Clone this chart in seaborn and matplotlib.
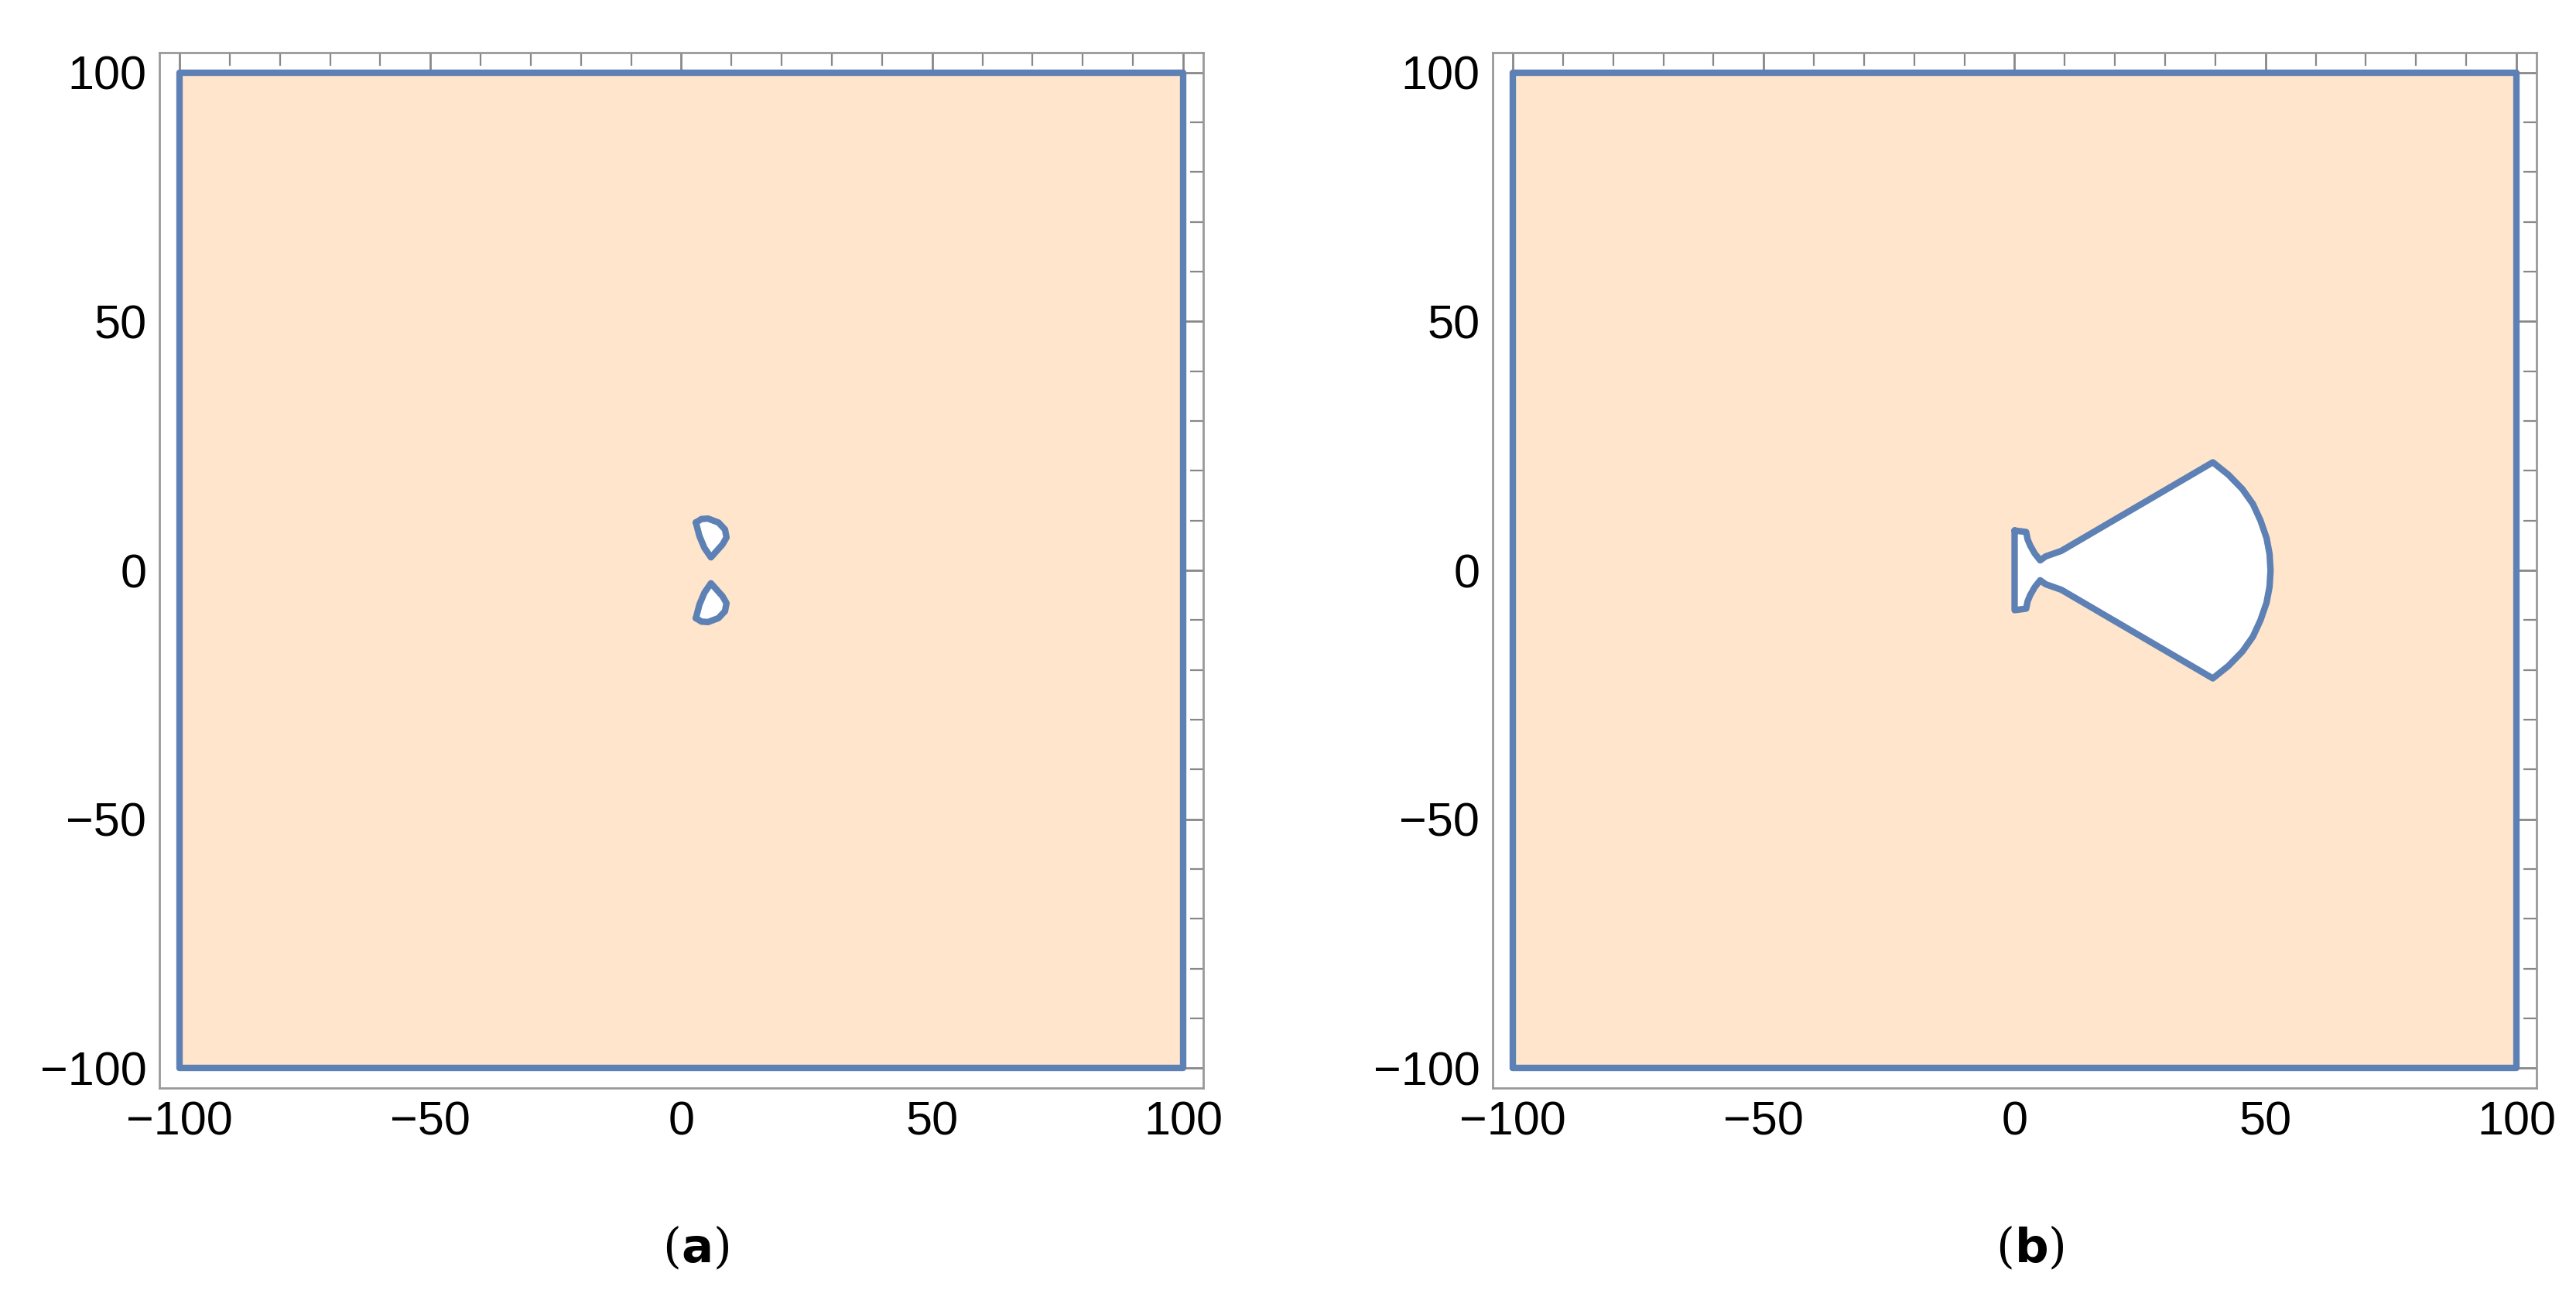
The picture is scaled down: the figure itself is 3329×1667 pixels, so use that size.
import numpy as np
import pandas as pd
import seaborn as sns
import matplotlib.pyplot as plt
from matplotlib.ticker import MultipleLocator

sns.set_style("white")
plt.rcParams['font.family'] = ['Liberation Sans', 'DejaVu Sans']
plt.rcParams['text.color'] = 'black'
plt.rcParams['xtick.labelcolor'] = 'black'
plt.rcParams['ytick.labelcolor'] = 'black'

# outer boundary (square) shared by both panels
square_x = [-100, 100, 100, -100, -100]
square_y = [-100, -100, 100, 100, -100]

# panel (a): two small drop-shaped holes (upper one, lower is mirrored)
drop_x = [2.9, 4.0, 5.3, 7.4, 8.7, 9.0, 8.2, 5.9, 4.6, 3.6, 2.9]
drop_y = [9.6, 10.3, 10.4, 9.6, 8.2, 6.6, 5.2, 2.6, 4.5, 6.9, 9.6]

# panel (b): fan-shaped hole, upper half from top-left going round to the right tip
fan_x = [0.0, 2.3, 2.6, 3.1, 4.0, 5.1, 6.2, 9.3, 39.5, 42.6, 45.4, 47.5, 49.0, 50.2, 50.8, 51.0]
fan_y = [8.0, 7.7, 6.2, 5.0, 3.4, 2.0, 2.8, 3.9, 21.7, 19.2, 16.3, 13.3, 10.0, 6.5, 3.3, 0.0]

fill_c = "#FEE5CC"
edge_c = "#5E81B5"

def outline(ax, xs, ys, fc):
    ax.fill(xs, ys, color=fc, zorder=2)
    df = pd.DataFrame({"x": xs, "y": ys})
    sns.lineplot(data=df, x="x", y="y", sort=False, estimator=None, ax=ax,
                 color=edge_c, lw=3, zorder=3)

fig = plt.figure(figsize=(16.65, 8.335), dpi=200)
ax1 = fig.add_axes([206/3330, 1 - 1406/1667, 1349/3330, 1338/1667])
ax2 = fig.add_axes([1929/3330, 1 - 1406/1667, 1349/3330, 1338/1667])

holes_a = [(drop_x, drop_y), (drop_x, [-v for v in drop_y])]
fx = fan_x + fan_x[::-1][1:]
fy = fan_y + [-v for v in fan_y[::-1][1:]]
fx = fx + [fx[0]]
fy = fy + [fy[0]]
holes_b = [(fx, fy)]

for ax, holes, lab in [(ax1, holes_a, "a"), (ax2, holes_b, "b")]:
    outline(ax, square_x, square_y, fill_c)
    for hx, hy in holes:
        outline(ax, hx, hy, "white")
    ax.set_xlim(-104, 104)
    ax.set_ylim(-104, 104)
    ax.set_xticks([-100, -50, 0, 50, 100])
    ax.set_yticks([-100, -50, 0, 50, 100])
    ax.set_xticklabels(["\u2212100", "\u221250", "0", "50", "100"])
    ax.set_yticklabels(["\u2212100", "\u221250", "0", "50", "100"])
    ax.xaxis.set_minor_locator(MultipleLocator(10))
    ax.yaxis.set_minor_locator(MultipleLocator(10))
    ax.tick_params(which="major", direction="in", length=12, width=1, color="#888888",
                   labelsize=22, top=True, right=True, pad=6)
    ax.tick_params(which="minor", direction="in", length=6, width=0.8, color="#888888",
                   top=True, right=True)
    for s in ax.spines.values():
        s.set_color("#999999")
        s.set_linewidth(1)
    ax.set_xlabel("")
    ax.set_ylabel("")
    ax.text(0.5, -0.155, "(", transform=ax.transAxes, ha="right", va="center", fontsize=22,
            family="DejaVu Serif")
    ax.text(0.5, -0.155, r"$\mathbf{%s}$)" % lab, transform=ax.transAxes, ha="left",
            va="center", fontsize=22, family="DejaVu Serif")

fig.savefig("out.png", dpi=200)
